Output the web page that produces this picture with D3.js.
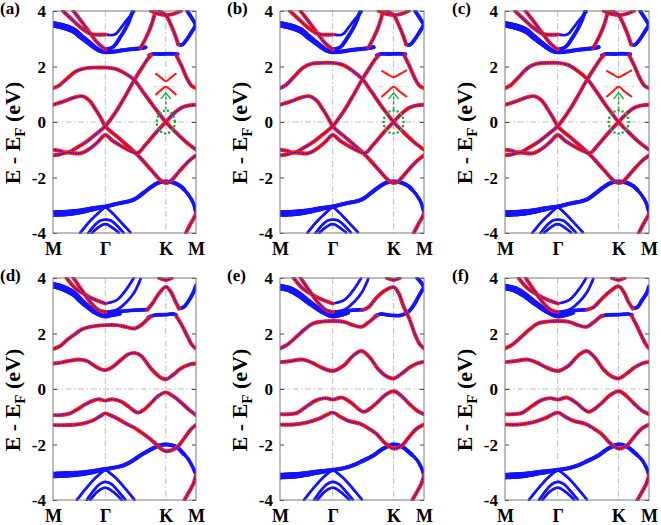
<!DOCTYPE html>
<html><head><meta charset="utf-8">
<script src="https://cdn.jsdelivr.net/npm/d3@7"></script>
<style>body{margin:0;background:#fff}svg{display:block}</style>
</head><body><svg id="c" width="661" height="525"></svg>
<script>
// ---------- axes / labels ----------
const kLabels = ["M", "Γ", "K", "M"];
const kTicks = [0, 0.577, 1.244, 1.577];
const eTicks = [-4, -2, 0, 2, 4];
const panelLabels = ["(a)", "(b)", "(c)", "(d)", "(e)", "(f)"];
const diracPoint = [1.244, 0];
const arrowE = [0.45, 1.05];

// ---------- top row (a)-(c) shared bands ----------
const T_r1 = [[0,0.62],[0.118,0.74],[0.229,0.88],[0.32,0.93],[0.4,0.78],[0.47,0.45],[0.53,0.13],[0.577,-0.15],[0.75,-0.65],[0.93,-1.18],[1.08,-1.72],[1.18,-2.08],[1.244,-2.2],[1.3,-2.12],[1.4,-1.75],[1.5,-1.4],[1.577,-1.2]];
const T_r2 = [[0,-1.0],[0.07,-1.03],[0.155,-1.1],[0.26,-0.93],[0.374,-0.7],[0.48,-0.42],[0.577,-0.15],[0.7,0.4],[0.8,0.95],[0.894,1.5],[0.98,1.95],[1.04,2.25],[1.08,2.4]];
const T_r4 = [[0,-1.2],[0.07,-1.17],[0.155,-1.1],[0.3,-1.13],[0.41,-0.95],[0.5,-0.7],[0.577,-0.47],[0.66,-0.68],[0.744,-0.85],[0.84,-1.02],[0.93,-1.12],[1.02,-0.82],[1.13,-0.4],[1.244,0],[1.33,0.3],[1.42,0.52],[1.5,0.6],[1.577,0.62]];
const T_r5 = [[1.36,2.4],[1.42,2.0],[1.48,1.55],[1.53,1.3],[1.577,1.22]];
const T_bflat = [[1.06,2.4],[1.1,2.45],[1.2,2.45],[1.3,2.46],[1.38,2.44]];
const T_bLow = [[0,-3.3],[0.15,-3.28],[0.3,-3.22],[0.45,-3.12],[0.577,-3.05],[0.7,-2.95],[0.89,-2.8],[1.0,-2.55],[1.08,-2.35],[1.17,-2.18],[1.244,-2.15],[1.32,-2.18],[1.4,-2.3],[1.45,-2.45],[1.51,-2.7],[1.55,-2.95],[1.577,-3.3]];
const T_lineL = [[0.3,-4],[0.4,-3.6],[0.5,-3.28],[0.577,-3.05]];
const T_lineR = [[0.577,-3.05],[0.66,-3.3],[0.76,-3.65],[0.86,-4]];
const T_arc1 = [[0.39,-4],[0.46,-3.72],[0.52,-3.56],[0.577,-3.52],[0.64,-3.56],[0.7,-3.72],[0.78,-4]];
const T_arc2 = [[0.43,-4],[0.5,-3.8],[0.577,-3.68],[0.65,-3.8],[0.73,-4]];
const T_tail = [[1.465,-4],[1.52,-3.65],[1.56,-3.42],[1.577,-3.3]];
const T_bUp = [[0,3.52],[0.1,3.45],[0.225,3.3],[0.32,3.05],[0.41,2.82],[0.5,2.6],[0.577,2.52],[0.68,2.54],[0.8,2.6],[0.97,2.66],[1.03,2.7]];
const T_r6 = [[0.225,4],[0.32,3.6],[0.42,3.15],[0.5,2.82],[0.577,2.62]];
const T_b3 = [[0.577,2.62],[0.66,2.7],[0.74,3.05],[0.82,3.5],[0.88,4.0]];
const T_r7 = [[0.11,4],[0.2,3.72],[0.3,3.42],[0.4,3.2],[0.46,3.15],[0.577,3.15]];
const T_b4 = [[0.577,3.15],[0.68,3.15],[0.75,3.4],[0.82,3.7],[0.9,4.0]];
const T_r8 = [[0.966,2.68],[1.02,3.0],[1.08,3.45],[1.13,4.0]];
const T_r9 = [[1.08,4.0],[1.16,3.9],[1.244,3.85],[1.33,3.9],[1.41,4.0]];
const T_r10 = [[1.17,4.0],[1.244,3.85],[1.3,3.5],[1.35,3.1],[1.38,2.8]];
const T_b5 = [[1.38,2.8],[1.42,2.78],[1.47,2.95],[1.52,3.2],[1.577,3.5]];
const T_b6 = [[1.48,4.0],[1.53,3.75],[1.577,3.5]];
// panel-specific plateau band
const A_r3 = [[0,1.22],[0.06,1.3],[0.15,1.55],[0.25,1.82],[0.35,1.93],[0.46,1.96],[0.577,1.96],[0.68,1.92],[0.78,1.78],[0.894,1.52],[1.0,1.05],[1.12,0.52],[1.244,0],[1.35,-0.36],[1.46,-0.7],[1.577,-1.0]];
const B_r3 = [[0,1.22],[0.06,1.32],[0.15,1.62],[0.25,1.95],[0.35,2.1],[0.46,2.13],[0.577,2.13],[0.68,2.07],[0.78,1.88],[0.9,1.55],[1.0,1.1],[1.12,0.53],[1.244,0],[1.35,-0.36],[1.46,-0.7],[1.577,-1.0]];
// insets (gapped cone)
const A_insUp = [[1.13,1.75],[1.19,1.6],[1.244,1.47],[1.3,1.6],[1.36,1.75]];
const A_insLo = [[1.13,0.97],[1.19,1.15],[1.244,1.27],[1.3,1.15],[1.36,0.97]];
const B_insUp = [[1.11,1.85],[1.18,1.72],[1.244,1.61],[1.31,1.72],[1.39,1.87]];
const B_insLo = [[1.11,0.9],[1.18,1.1],[1.244,1.27],[1.31,1.1],[1.39,0.9]];

// ---------- bottom row (d)-(f) ----------
const D_r1 = [[0,0.92],[0.08,0.95],[0.155,1.0],[0.3,1.06],[0.38,1.0],[0.45,0.85],[0.52,0.72],[0.577,0.68],[0.65,0.78],[0.746,1.04],[0.83,1.25],[0.9,1.3],[0.97,1.2],[1.078,0.75],[1.17,0.45],[1.244,0.35],[1.32,0.5],[1.41,0.74],[1.5,0.88],[1.577,0.92]];
const D_r2 = [[0,1.44],[0.08,1.55],[0.16,1.78],[0.23,1.95],[0.32,2.15],[0.41,2.24],[0.577,2.3],[0.7,2.3],[0.8,2.24],[0.9,2.18],[0.97,2.3],[1.03,2.48],[1.08,2.62]];
const D_bflat = [[1.05,2.58],[1.12,2.66],[1.244,2.68],[1.33,2.7],[1.37,2.65]];
const D_r2b = [[1.36,2.62],[1.42,2.3],[1.485,1.88],[1.53,1.6],[1.577,1.45]];
const D_r3 = [[1.04,2.86],[1.1,3.1],[1.17,3.45],[1.244,3.68],[1.3,3.5],[1.35,3.15],[1.39,2.9]];
const D_b3a = [[0.577,2.72],[0.7,2.78],[0.85,2.83],[1.04,2.86]];
const D_b3b = [[1.39,2.9],[1.44,2.95],[1.5,3.2],[1.55,3.5],[1.577,3.74]];
const D_rTop = [[1.17,4.0],[1.244,3.93],[1.31,4.0]];
const D_bUp = [[0,3.74],[0.1,3.65],[0.226,3.44],[0.32,3.15],[0.41,2.9],[0.5,2.7],[0.577,2.62],[0.65,2.66],[0.75,2.72]];
const D_r4 = [[0.15,4],[0.25,3.62],[0.41,3.3],[0.577,3.08]];
const D_b4 = [[0.577,3.08],[0.7,3.2],[0.8,3.55],[0.89,4]];
const D_r5 = [[0.226,4],[0.32,3.55],[0.42,3.1],[0.5,2.85],[0.577,2.78]];
const D_b5 = [[0.577,2.78],[0.7,2.85],[0.8,3.1],[0.9,3.5],[0.97,4.0]];
const D_r6 = [[0,-0.94],[0.08,-0.94],[0.17,-0.9],[0.26,-0.75],[0.374,-0.52],[0.5,-0.37],[0.577,-0.42],[0.65,-0.37],[0.75,-0.45],[0.836,-0.64],[0.93,-0.85],[1.0,-0.75],[1.077,-0.52],[1.16,-0.25],[1.244,-0.12],[1.32,-0.25],[1.41,-0.48],[1.5,-0.75],[1.577,-0.94]];
const D_r7 = [[0,-1.3],[0.13,-1.3],[0.26,-1.28],[0.36,-1.22],[0.448,-1.12],[0.52,-0.98],[0.577,-0.88],[0.64,-0.96],[0.707,-1.06],[0.77,-1.18],[0.836,-1.3],[0.9,-1.4],[0.966,-1.55],[1.04,-1.72],[1.114,-1.92],[1.19,-2.15],[1.244,-2.24],[1.31,-2.2],[1.375,-2.08],[1.43,-1.85],[1.486,-1.6],[1.53,-1.42],[1.577,-1.3]];
const D_bLow = [[0,-3.1],[0.15,-3.08],[0.337,-3.03],[0.45,-2.97],[0.577,-2.89],[0.68,-2.83],[0.78,-2.75],[0.87,-2.6],[0.966,-2.39],[1.04,-2.25],[1.114,-2.12],[1.18,-2.03],[1.244,-2.0],[1.31,-2.03],[1.375,-2.12],[1.43,-2.3],[1.486,-2.5],[1.53,-2.75],[1.56,-2.95],[1.577,-3.1]];
const D_lineL = [[0.263,-4],[0.36,-3.6],[0.47,-3.2],[0.577,-2.9]];
const D_lineR = [[0.577,-2.9],[0.69,-3.2],[0.8,-3.6],[0.9,-4]];
const D_arc1 = [[0.374,-4],[0.45,-3.65],[0.52,-3.42],[0.577,-3.35],[0.64,-3.42],[0.71,-3.65],[0.8,-4]];
const D_arc2 = [[0.41,-4],[0.49,-3.7],[0.577,-3.56],[0.66,-3.7],[0.76,-4]];
const D_tail = [[1.45,-4],[1.51,-3.65],[1.55,-3.4],[1.577,-3.1]];

const E_r1 = [[0,0.97],[0.1,1.0],[0.25,1.06],[0.35,0.95],[0.45,0.78],[0.577,0.65],[0.7,0.85],[0.8,1.2],[0.893,1.37],[0.98,1.15],[1.08,0.7],[1.17,0.45],[1.244,0.38],[1.33,0.55],[1.42,0.78],[1.5,0.92],[1.577,0.98]];
const E_r2 = [[0,1.46],[0.08,1.6],[0.18,1.88],[0.27,2.15],[0.36,2.36],[0.46,2.43],[0.577,2.45],[0.7,2.42],[0.8,2.3],[0.893,2.24],[0.96,2.38],[1.02,2.54],[1.06,2.65]];
const E_bflat = [[1.04,2.62],[1.1,2.7],[1.18,2.67],[1.244,2.65],[1.33,2.66],[1.41,2.8],[1.47,3.05],[1.52,3.35],[1.577,3.67]];
const E_r3 = [[0.9,2.84],[0.97,2.95],[1.06,3.3],[1.15,3.55],[1.244,3.67],[1.3,3.45],[1.35,3.0],[1.42,2.5],[1.48,1.95],[1.53,1.62],[1.577,1.46]];
const E_b3 = [[0.577,2.71],[0.7,2.8],[0.8,2.84],[0.9,2.86]];
const E_bUp = [[0,3.67],[0.1,3.6],[0.2,3.42],[0.3,3.17],[0.4,2.93],[0.5,2.72],[0.577,2.62],[0.66,2.66],[0.75,2.75]];
const E_b6 = [[1.5,4.0],[1.55,3.82],[1.577,3.67]];
const E_r6 = [[0,-0.91],[0.08,-0.91],[0.18,-0.87],[0.28,-0.65],[0.4,-0.4],[0.5,-0.33],[0.577,-0.38],[0.68,-0.31],[0.78,-0.5],[0.91,-0.82],[0.98,-0.72],[1.06,-0.5],[1.15,-0.22],[1.244,-0.08],[1.33,-0.25],[1.42,-0.55],[1.5,-0.78],[1.577,-0.91]];
const E_r7 = [[0,-1.28],[0.15,-1.28],[0.3,-1.2],[0.435,-1.06],[0.577,-0.85],[0.66,-1.0],[0.75,-1.15],[0.874,-1.25],[0.96,-1.4],[1.058,-1.62],[1.15,-1.95],[1.244,-2.15],[1.33,-2.05],[1.42,-1.7],[1.5,-1.42],[1.577,-1.28]];
const E_bLow = [[0,-3.14],[0.2,-3.1],[0.4,-3.0],[0.577,-2.92],[0.7,-2.85],[0.8,-2.75],[0.9,-2.6],[1.02,-2.4],[1.13,-2.15],[1.244,-2.0],[1.33,-2.07],[1.42,-2.3],[1.5,-2.56],[1.55,-2.85],[1.577,-3.14]];

const F_bflat = [[1.04,2.6],[1.1,2.66],[1.244,2.68],[1.35,2.7],[1.4,2.66]];
const F_r2b = [[1.39,2.62],[1.44,2.3],[1.5,1.88],[1.54,1.62],[1.577,1.46]];
const F_r3 = [[0.9,2.86],[0.97,2.95],[1.06,3.25],[1.15,3.52],[1.244,3.7],[1.3,3.5],[1.35,3.15],[1.4,2.9]];
const F_b3b = [[1.4,2.9],[1.45,2.95],[1.5,3.2],[1.55,3.45],[1.577,3.7]];

// ---------- layer lists (r = red band, b = blue band, bw = wide blue, bt = thin blue) ----------
const topCommon = [
  [T_bLow,"bw"],[T_lineL,"bt"],[T_lineR,"bt"],[T_arc1,"bt"],[T_arc2,"bt"],
  [T_bUp,"bw"],[T_b3,"b"],[T_b4,"bt"],[T_bflat,"b"],[T_b5,"b"],[T_b6,"b"],
  [T_r1,"r"],[T_r2,"r"],[T_r4,"r"],[T_r5,"r"],[T_r6,"r"],[T_r7,"r"],[T_r8,"r"],[T_r9,"r"],[T_r10,"r"],[T_tail,"r"]
];
const layersA = topCommon.concat([[A_r3,"r"]]);
const layersB = topCommon.concat([[B_r3,"r"]]);
const bottomCommon = [
  [D_lineL,"bt"],[D_lineR,"bt"],[D_arc1,"bt"],[D_arc2,"bt"],[D_tail,"r"],
  [D_b4,"bt"],[D_b5,"bt"],[D_r4,"r"],[D_r5,"r"],[D_rTop,"r"]
];
const layersD = bottomCommon.concat([
  [D_bLow,"bw"],[D_bUp,"bw"],[D_b3a,"b"],[D_bflat,"b"],[D_b3b,"b"],
  [D_r1,"r"],[D_r2,"r"],[D_r2b,"r"],[D_r3,"r"],[D_r6,"r"],[D_r7,"r"]
]);
const layersE = bottomCommon.concat([
  [E_bLow,"bw"],[E_bUp,"bw"],[E_b3,"b"],[E_bflat,"b"],[E_b6,"b"],
  [E_r1,"r"],[E_r2,"r"],[E_r3,"r"],[E_r6,"r"],[E_r7,"r"]
]);
const layersF = bottomCommon.concat([
  [E_bLow,"bw"],[E_bUp,"bw"],[E_b3,"b"],[F_bflat,"b"],[F_b3b,"b"],
  [E_r1,"r"],[E_r2,"r"],[F_r2b,"r"],[F_r3,"r"],[E_r6,"r"],[E_r7,"r"]
]);

// ---------- layout ----------
const BLUE = "#1414ff", RED = "#ff1a1a", GREEN = "#1ea84a";
const panels = [
  {x0:53, x1:196, y0:11, y1:233, layers:layersA, ins:[A_insUp,A_insLo]},
  {x0:280, x1:424, y0:11, y1:233, layers:layersB, ins:[B_insUp,B_insLo]},
  {x0:505, x1:649, y0:11, y1:233, layers:layersB, ins:[B_insUp,B_insLo]},
  {x0:53, x1:196, y0:278, y1:500, layers:layersD},
  {x0:280, x1:424, y0:278, y1:500, layers:layersE},
  {x0:505, x1:649, y0:278, y1:500, layers:layersF}
];
// marker diameter as a function of k for each blue style
const widthFn = {
  b: () => 3.8,
  bt: () => 2.8,
  bw: k => k < 0.15 ? 6.6 : (k < 0.62 ? 6.6 - (k - 0.15) / 0.47 * 2.4 : (k > 1.45 ? 3.6 : 4.2))
};
const RED_W = 3.9;
const FONT = "'Liberation Serif','Times New Roman',serif";

const svg = d3.select("#c");
const probe = svg.append("path").attr("fill", "none").attr("stroke", "none");

panels.forEach((P, i) => {
  const x = d3.scaleLinear().domain([0, 1.577]).range([P.x0, P.x1]);
  const y = d3.scaleLinear().domain([-4, 4]).range([P.y1, P.y0]);
  const g = svg.append("g");
  const cid = "clip" + i;
  svg.append("clipPath").attr("id", cid).append("rect")
    .attr("x", P.x0).attr("y", P.y0 - 1).attr("width", P.x1 - P.x0).attr("height", P.y1 - P.y0 + 2);
  const line = d3.line().x(d => x(d[0])).y(d => y(d[1])).curve(d3.curveCatmullRom.alpha(0.5));

  // grid (dash-dot) at Γ, K and E=0
  const grid = g.append("g").attr("stroke", "#b4b4b4").attr("stroke-width", 0.9)
    .attr("stroke-dasharray", "6,2.5,1.5,2.5").attr("fill", "none");
  [kTicks[1], kTicks[2]].forEach(k => grid.append("line")
    .attr("x1", x(k)).attr("x2", x(k)).attr("y1", P.y0).attr("y2", P.y1));
  grid.append("line").attr("x1", P.x0).attr("x2", P.x1).attr("y1", y(0)).attr("y2", y(0));

  const bands = g.append("g").attr("clip-path", `url(#${cid})`).attr("fill", "none");
  // blue bands: dense markers along the curve, size depends on k
  P.layers.filter(l => l[1] !== "r").forEach(l => {
    probe.attr("d", line(l[0]));
    const node = probe.node(), L = node.getTotalLength();
    const pts = [];
    for (let s = 0; s <= L; s += 1.2) { const p = node.getPointAtLength(s); pts.push(p); }
    const wf = widthFn[l[1]];
    bands.append("g").attr("fill", BLUE).selectAll("circle").data(pts).join("circle")
      .attr("cx", p => p.x).attr("cy", p => p.y).attr("r", p => wf(x.invert(p.x)) / 2);
  });
  // red bands with blue dotted core
  P.layers.filter(l => l[1] === "r").forEach(l => {
    bands.append("path").attr("d", line(l[0])).attr("stroke", RED)
      .attr("stroke-width", RED_W).attr("stroke-linecap", "round").attr("stroke-linejoin", "round");
    bands.append("path").attr("d", line(l[0])).attr("stroke", BLUE)
      .attr("stroke-width", 1.7).attr("stroke-linecap", "round").attr("stroke-dasharray", "0,2.6");
  });

  // inset, dirac circle, arrow
  if (P.ins) {
    const ig = g.append("g").attr("fill", "none");
    ig.append("line").attr("x1", x(P.ins[1][0][0]) - 2).attr("x2", x(P.ins[1][4][0]) + 2)
      .attr("y1", y(P.ins[1][2][1])).attr("y2", y(P.ins[1][2][1]))
      .attr("stroke", "#c8c8c8").attr("stroke-width", 0.9).attr("stroke-dasharray", "4,2,1,2");
    P.ins.forEach(d => ig.append("path").attr("d", line(d)).attr("stroke", RED).attr("stroke-width", 2.1));
    const cx = x(diracPoint[0]), cy = y(diracPoint[1]);
    ig.append("ellipse").attr("cx", cx).attr("cy", cy).attr("rx", i === 0 ? 9 : 10).attr("ry", 11.5)
      .attr("stroke", GREEN).attr("stroke-width", 2.6).attr("stroke-linecap", "round").attr("stroke-dasharray", "0,4.2");
    ig.append("line").attr("x1", cx).attr("x2", cx).attr("y1", y(arrowE[0])).attr("y2", y(arrowE[1]))
      .attr("stroke", GREEN).attr("stroke-width", 1.5).attr("stroke-dasharray", "3,2");
    const ay = y(arrowE[1]);
    ig.append("path").attr("d", `M${cx - 5},${ay + 6}L${cx},${ay}L${cx + 5},${ay + 6}`)
      .attr("stroke", GREEN).attr("stroke-width", 1.5);
  }

  // axes
  const ax = g.append("g").attr("transform", `translate(${P.x0},0)`)
    .call(d3.axisLeft(y).tickValues(eTicks).tickSize(-4).tickPadding(7).tickFormat(d => d < 0 ? "-" + Math.abs(d) : d));
  ax.select(".domain").remove();
  ax.selectAll(".tick line").attr("stroke", "#444");
  ax.selectAll("text").attr("font-family", FONT).attr("font-weight", "bold").attr("font-size", 17).attr("fill", "#000").attr("dy", "0.34em");
  const axr = g.append("g").attr("transform", `translate(${P.x1},0)`)
    .call(d3.axisRight(y).tickValues(eTicks).tickSize(-4).tickFormat(""));
  axr.select(".domain").remove();
  axr.selectAll(".tick line").attr("stroke", "#444");
  const bx = g.append("g").attr("transform", `translate(0,${P.y1})`)
    .call(d3.axisBottom(x).tickValues(kTicks).tickSize(0).tickPadding(7).tickFormat((d, j) => kLabels[j]));
  bx.select(".domain").remove();
  bx.selectAll("text").attr("font-family", FONT).attr("font-weight", "bold").attr("font-size", 18).attr("fill", "#000").attr("dy", "0.85em");

  g.append("rect").attr("x", P.x0).attr("y", P.y0).attr("width", P.x1 - P.x0).attr("height", P.y1 - P.y0)
    .attr("fill", "none").attr("stroke", "#7a7a7a").attr("stroke-width", 1);

  // y label
  const lx = P.x0 - 33, ly = (P.y0 + P.y1) / 2 + 11;
  const t = g.append("text").attr("transform", `translate(${lx},${ly}) rotate(-90)`)
    .attr("text-anchor", "middle").attr("font-family", FONT).attr("font-weight", "bold").attr("font-size", 22);
  t.append("tspan").text("E - E");
  t.append("tspan").attr("font-size", 15).attr("dy", 5).text("F");
  t.append("tspan").attr("dy", -5).text(" (eV)");

  // panel label
  g.append("text").attr("x", P.x0 - 53).attr("y", P.y0 + 3).attr("font-family", FONT)
    .attr("font-weight", "bold").attr("font-size", 17).text(panelLabels[i]);
});
probe.remove();
</script>
</body></html>
